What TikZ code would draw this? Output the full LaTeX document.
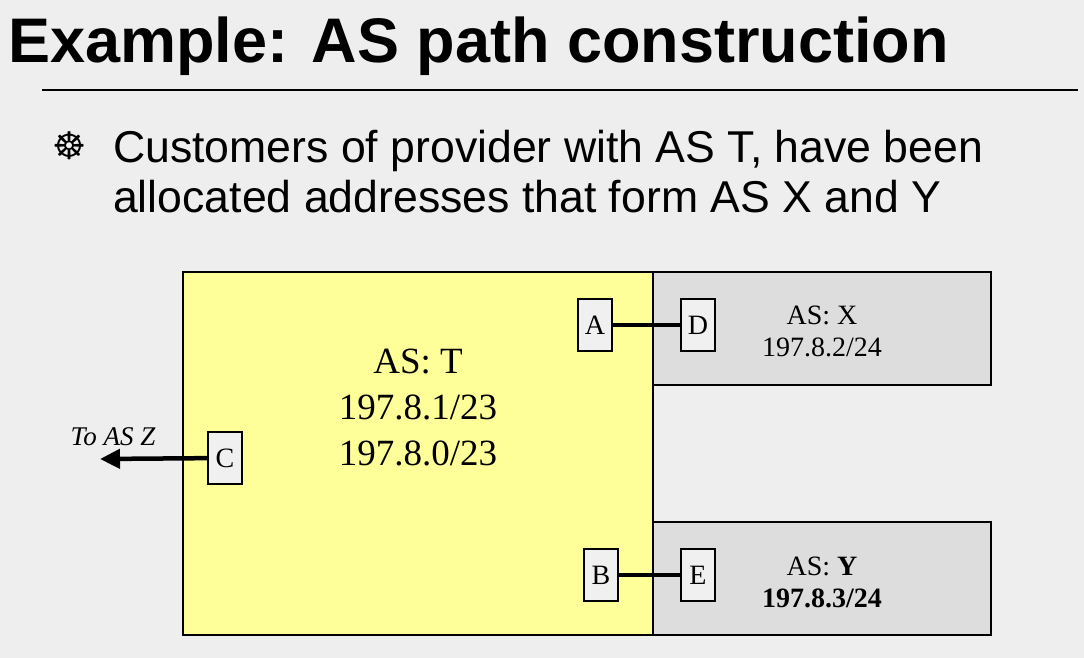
\documentclass[tikz,border=0pt]{standalone}
\usepackage{fontspec}
\setmainfont{Liberation Serif}
\setsansfont{Liberation Sans}
\newfontfamily\symfont{DejaVu Sans}
\usepackage{tikz}
\usetikzlibrary{arrows.meta}
\definecolor{slidebg}{HTML}{EEEEEE}
\definecolor{asyellow}{HTML}{FFFF99}
\definecolor{asgray}{HTML}{DDDDDD}
\definecolor{portfill}{HTML}{F0F0F0}

\begin{document}
\begin{tikzpicture}[x=1pt,y=-1pt,
  port/.style={draw,line width=1.3pt,fill=portfill,minimum width=34pt,minimum height=52pt,inner sep=0pt,font=\fontsize{28}{28}\selectfont},
  link/.style={line width=4.5pt}]
\fill[slidebg] (0,0) rectangle (1084,658);
\node[anchor=base west,inner sep=0pt,font=\sffamily\bfseries\fontsize{63}{63}\selectfont] (title) at (8,63) {Example: AS path construction};
\draw[line width=2pt] (42,90)--(1078,90);
\node[inner sep=0pt,font=\symfont\bfseries\fontsize{38}{38}\selectfont] (bul) at (70,146) {☸};
\node[anchor=base west,inner sep=0pt,font=\sffamily\fontsize{44.6}{50}\selectfont] (line1) at (113,162) {Customers of provider with AS T, have been};
\node[anchor=base west,inner sep=0pt,font=\sffamily\fontsize{44.6}{50}\selectfont] (line2) at (113,212) {allocated addresses that form AS X and Y};
% the three AS areas
\draw[line width=1.3pt,fill=asgray] (653,272) rectangle (991,385);
\draw[line width=1.3pt,fill=asgray] (653,522) rectangle (991,635);
\draw[line width=1.3pt,fill=asyellow] (183,272) rectangle (653,635);
\node[align=center,inner sep=0pt,font=\fontsize{37}{46}\selectfont] (ast) at (418,408) {AS: T\\197.8.1/23\\197.8.0/23};
\node[align=center,inner sep=0pt,font=\fontsize{28}{32}\selectfont] (asx) at (822,331) {AS: X\\197.8.2/24};
\node[align=center,inner sep=0pt,font=\fontsize{28}{32}\selectfont] (asy) at (822,582) {AS: \textbf{Y}\\\textbf{197.8.3/24}};
% border routers
\node[port] (a) at (595,325) {A};
\node[port] (d) at (698,325) {D};
\node[port] (c) at (225,458) {C};
\node[port] (b) at (601,575) {B};
\node[port] (e) at (698,575) {E};
\coordinate (z) at (100,459);
\draw[link] (a)--(d);
\draw[link] (b)--(e);
\draw[link,-{Triangle[length=20pt,width=19pt]}] (c)--(z);
\node[inner sep=0pt,font=\itshape\fontsize{27}{27}\selectfont] (toz) at (113,437) {To AS Z};
\end{tikzpicture}
\end{document}
